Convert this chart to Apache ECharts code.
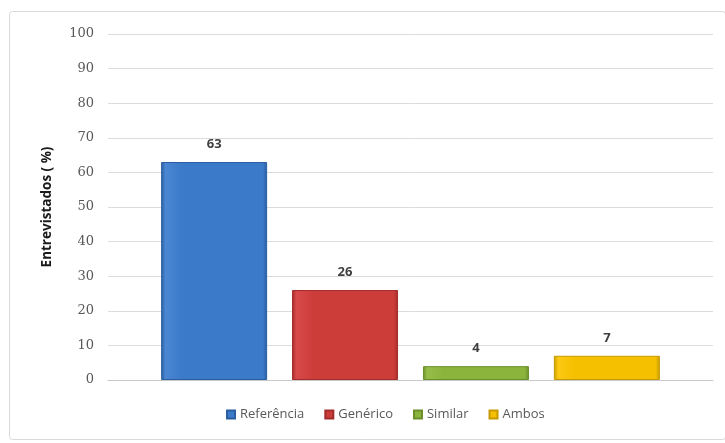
<!DOCTYPE html>
<html>
<head>
<meta charset="utf-8">
<script src="https://cdn.jsdelivr.net/npm/echarts@6/dist/echarts.min.js"></script>
<style>
  html, body { margin: 0; padding: 0; background: #ffffff; }
  #chart { width: 725px; height: 443px; }
</style>
</head>
<body>
<div id="chart"></div>
<script>
// Share of respondents by type of medicine used
const seriesNames = ['Referência', 'Genérico', 'Similar', 'Ambos'];
const seriesValues = [63, 26, 4, 7];
const yTicks = [0, 10, 20, 30, 40, 50, 60, 70, 80, 90, 100];
const barColors = [
  ['#4a86d2', '#3b79c9', '#2a5e9f'],
  ['#d8494a', '#cc3d3a', '#a32c2a'],
  ['#96bd48', '#8ab43c', '#6b8e2a'],
  ['#fcc914', '#f5c000', '#c79a00']
];

// bars with darker bevelled edges
function bevel(c) {
  return new echarts.graphic.LinearGradient(0, 0, 1, 0, [
    { offset: 0, color: c[2] },
    { offset: 0.04, color: c[0] },
    { offset: 0.2, color: c[1] },
    { offset: 0.96, color: c[1] },
    { offset: 1, color: c[2] }
  ]);
}

const chart = echarts.init(document.getElementById('chart'));
chart.setOption({
  animation: false,
  backgroundColor: '#ffffff',
  graphic: [{
    type: 'rect',
    shape: { x: 9.5, y: 11.5, width: 716, height: 428, r: 3 },
    style: { fill: 'none', stroke: '#d9d9d9', lineWidth: 1 },
    silent: true
  }],
  grid: { left: 108, right: 12, top: 34, bottom: 63 },
  legend: {
    bottom: 17,
    left: 221,
    itemWidth: 8,
    itemHeight: 8,
    itemGap: 20,
    icon: 'rect',
    textStyle: { color: '#595959', fontSize: 13, fontFamily: 'Open Sans' },
    data: seriesNames.map((n, i) => ({ name: n, itemStyle: { color: barColors[i][1] } }))
  },
  xAxis: {
    type: 'category',
    data: [''],
    axisLine: { show: true, lineStyle: { color: '#c8c8c8' } },
    axisTick: { show: false },
    axisLabel: { show: false }
  },
  yAxis: {
    type: 'value',
    min: yTicks[0],
    max: yTicks[yTicks.length - 1],
    interval: 10,
    name: 'Entrevistados ( %)',
    nameLocation: 'middle',
    nameGap: 54,
    nameRotate: 90,
    nameTextStyle: { color: '#1a1a1a', fontSize: 13.5, fontWeight: 'bold', fontFamily: 'Open Sans' },
    axisLine: { show: false },
    axisTick: { show: false },
    axisLabel: { color: '#595959', fontSize: 13, fontFamily: 'DejaVu Serif', margin: 14 },
    splitLine: { lineStyle: { color: '#dcdcdc' } }
  },
  series: seriesNames.map((name, i) => ({
    name: name,
    type: 'bar',
    data: [seriesValues[i]],
    barWidth: 106,
    barGap: '23.5%',
    itemStyle: {
      color: bevel(barColors[i]),
      borderColor: barColors[i][2],
      borderWidth: 1
    },
    label: {
      show: true,
      position: 'top',
      distance: 11,
      color: '#404040',
      fontSize: 13,
      fontWeight: 'bold',
      fontFamily: 'Open Sans'
    }
  }))
});
</script>
</body>
</html>
